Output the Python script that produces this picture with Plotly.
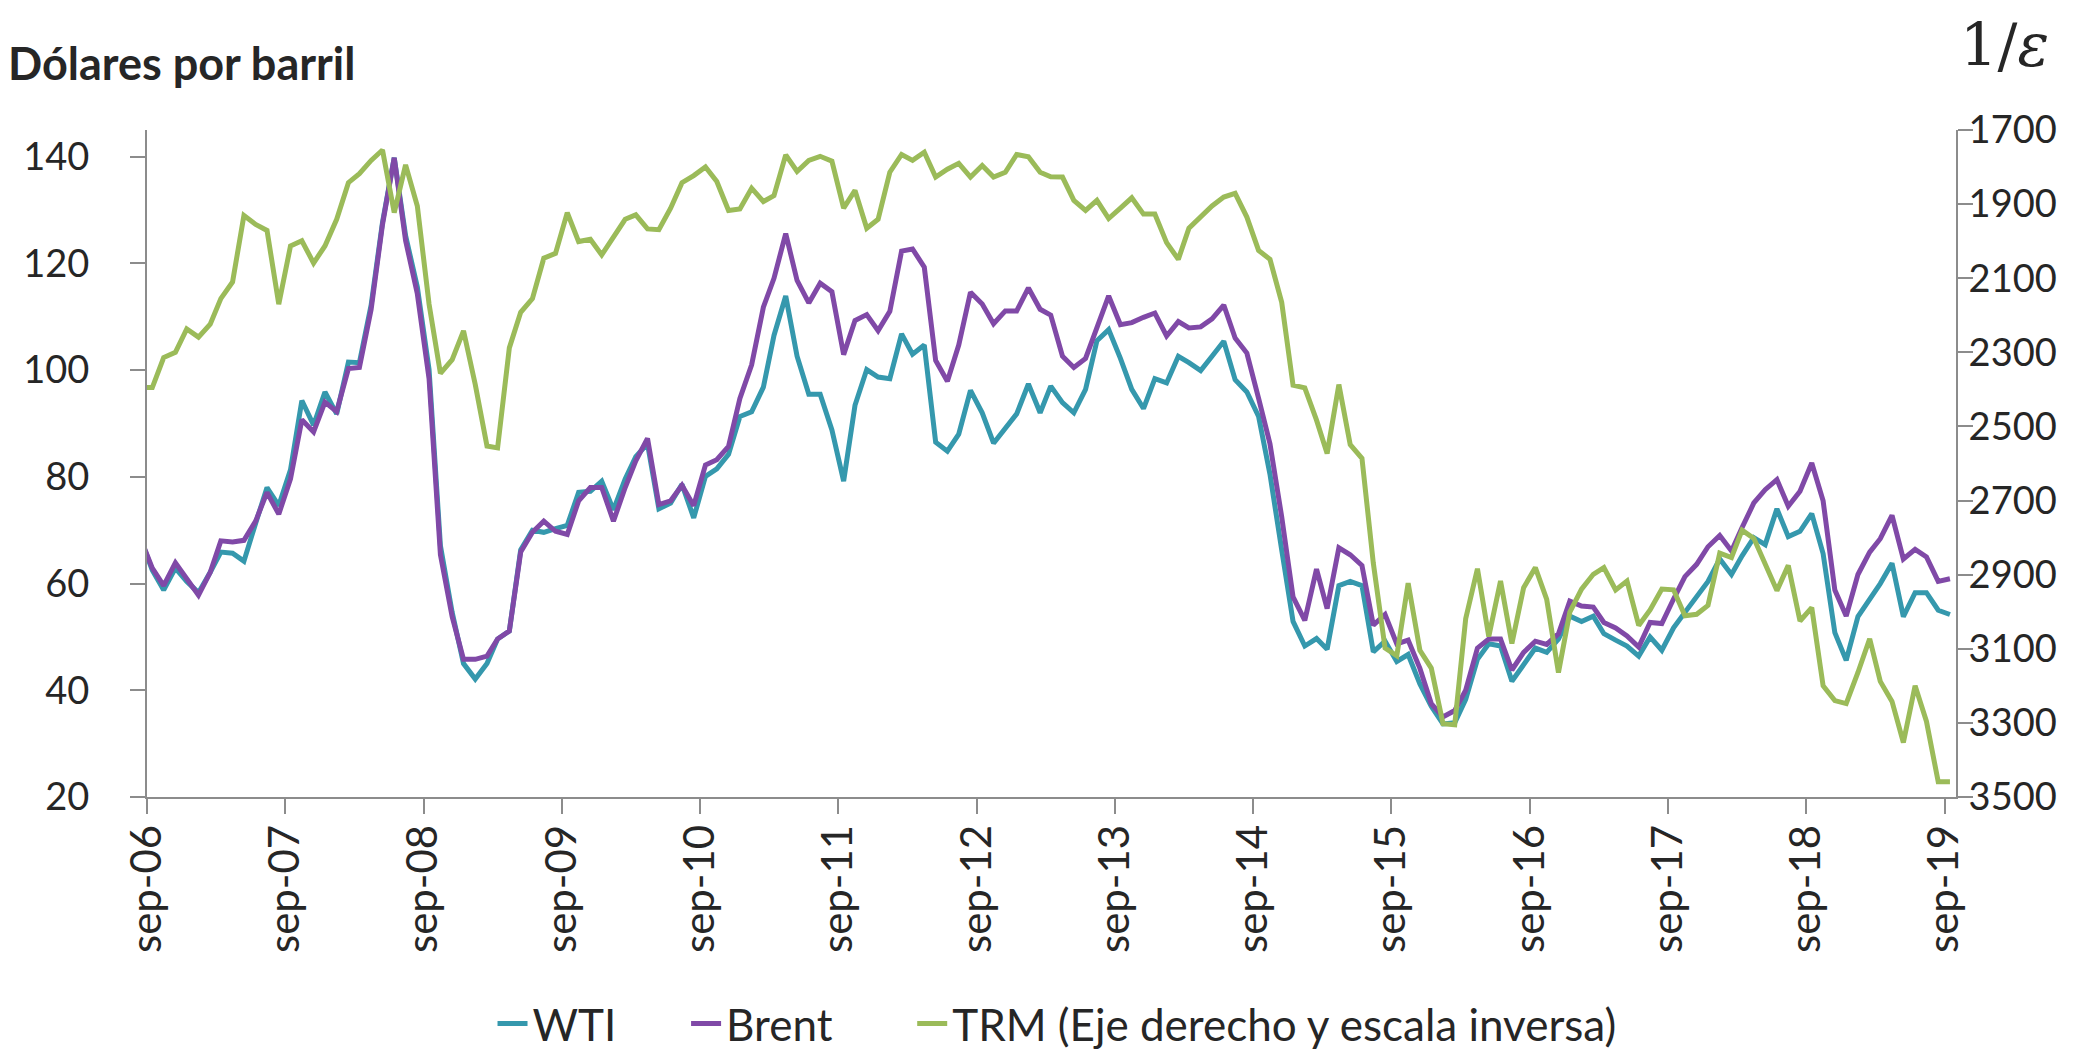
import pandas as pd
import plotly.graph_objects as go

# monthly observations, aug-06 .. sep-19 (plotted at mid-month)
months = pd.date_range("2006-08-01", "2019-09-01", freq="MS") + pd.Timedelta(days=14)

wti = [
    68.4, 62.5, 58.8, 62.9, 60.4, 58.3, 62.1, 65.9, 65.7, 64.2, 71.3, 78.0, 74.6, 81.3, 94.3, 89.7,
    95.9, 91.8, 101.5, 101.4, 112.2, 127.7, 139.8, 125.2, 115.6, 100.1, 67.1, 54.6, 45.0, 42.1, 45.0, 49.6,
    51.1, 66.3, 70.0, 69.6, 70.3, 70.9, 77.1, 77.3, 79.2, 73.8, 79.6, 83.8, 86.2, 74.0, 75.1, 78.6,
    72.3, 80.1, 81.5, 84.2, 91.3, 92.2, 96.8, 106.5, 113.9, 102.6, 95.5, 95.5, 88.8, 79.2, 93.4, 100.1,
    98.7, 98.4, 106.8, 103.0, 104.7, 86.5, 84.8, 88.0, 96.2, 92.0, 86.3, 89.0, 91.8, 97.4, 92.0, 97.0,
    93.9, 92.0, 96.4, 105.5, 107.6, 102.2, 96.4, 92.8, 98.4, 97.6, 102.6, 101.4, 99.9, 102.6, 105.4, 98.2,
    95.9, 91.3, 80.5, 66.3, 52.9, 48.3, 49.7, 47.7, 59.6, 60.4, 59.6, 47.2, 49.2, 45.4, 46.7, 41.2,
    37.0, 33.7, 33.9, 38.3, 45.8, 48.7, 48.3, 41.7, 45.0, 47.9, 47.1, 49.6, 53.9, 52.9, 53.9, 50.6,
    49.4, 48.3, 46.4, 50.0, 47.5, 51.7, 54.6, 57.5, 60.4, 64.6, 61.7, 65.2, 68.6, 67.3, 74.0, 68.8,
    69.8, 73.1, 65.6, 50.8, 45.6, 53.8, 57.1, 60.0, 63.8, 53.8, 58.3, 58.3, 55.0, 54.2,
]

brent = [
    68.4, 62.9, 59.6, 63.9, 60.9, 57.8, 62.1, 68.0, 67.8, 68.1, 71.7, 77.1, 73.0, 79.6, 90.7, 88.4,
    94.0, 92.2, 100.3, 100.5, 111.4, 127.3, 139.8, 124.3, 114.3, 98.4, 65.4, 53.8, 45.8, 45.8, 46.4, 49.6,
    51.1, 65.9, 69.6, 71.7, 69.8, 69.2, 75.5, 78.0, 78.0, 71.7, 78.0, 83.0, 87.2, 74.8, 75.5, 78.4,
    74.6, 82.2, 83.2, 85.7, 94.7, 101.0, 111.8, 117.2, 125.6, 116.8, 112.6, 116.3, 114.7, 102.9, 109.3, 110.4,
    107.4, 111.0, 122.3, 122.7, 119.3, 101.8, 97.9, 104.7, 114.6, 112.4, 108.7, 111.1, 111.1, 115.4, 111.4, 110.3,
    102.6, 100.5, 102.2, 108.1, 113.9, 108.5, 108.9, 109.9, 110.7, 106.4, 109.1, 107.9, 108.1, 109.6, 112.2, 106.0,
    103.2, 94.7, 86.2, 72.5, 57.5, 53.1, 62.7, 55.3, 66.7, 65.4, 63.4, 52.2, 54.2, 48.7, 49.4, 44.1,
    37.5, 35.0, 36.2, 40.0, 47.9, 49.6, 49.6, 43.8, 47.1, 49.2, 48.6, 50.6, 56.7, 55.8, 55.6, 52.7,
    51.7, 50.2, 48.1, 52.7, 52.5, 57.1, 61.3, 63.6, 66.9, 69.0, 66.1, 70.5, 75.1, 77.6, 79.5, 74.5,
    77.3, 82.6, 75.5, 58.8, 53.9, 61.7, 65.9, 68.4, 72.8, 64.6, 66.4, 65.0, 60.4, 60.9,
]

trm = [
    2395, 2395, 2314, 2300, 2237, 2259, 2224, 2155, 2110, 1931, 1955, 1971, 2170, 2013, 1999, 2059,
    2013, 1941, 1842, 1818, 1782, 1754, 1923, 1794, 1905, 2170, 2357, 2320, 2242, 2387, 2553, 2558,
    2288, 2192, 2155, 2046, 2033, 1923, 2001, 1995, 2037, 1987, 1941, 1929, 1967, 1969, 1911, 1842,
    1823, 1800, 1839, 1917, 1913, 1857, 1893, 1877, 1767, 1812, 1782, 1771, 1784, 1911, 1863, 1965,
    1941, 1814, 1766, 1782, 1760, 1827, 1806, 1790, 1827, 1796, 1827, 1814, 1766, 1772, 1814, 1826,
    1827, 1890, 1917, 1890, 1939, 1911, 1883, 1927, 1927, 2004, 2049, 1965, 1935, 1905, 1881, 1871,
    1935, 2025, 2049, 2165, 2389, 2396, 2483, 2573, 2387, 2549, 2586, 2869, 3098, 3119, 2923, 3104,
    3152, 3302, 3305, 3019, 2884, 3067, 2917, 3086, 2935, 2881, 2967, 3164, 3001, 2939, 2899, 2881,
    2941, 2917, 3037, 2995, 2939, 2941, 3011, 3007, 2983, 2842, 2854, 2780, 2802, 2875, 2943, 2875,
    3025, 2989, 3200, 3240, 3248, 3164, 3073, 3188, 3242, 3353, 3200, 3296, 3459, 3459,
]

tick_dates = [f"{y}-09-01" for y in range(2006, 2020)]
tick_labels = ["sep-06", "sep-07", "sep-08", "sep-09", "sep-10", "sep-11", "sep-12",
               "sep-13", "sep-14", "sep-15", "sep-16", "sep-17", "sep-18", "sep-19"]
left_ticks = [20, 40, 60, 80, 100, 120, 140]
right_ticks = [1700, 1900, 2100, 2300, 2500, 2700, 2900, 3100, 3300, 3500]

FONT = "Lato"
TXT = "#262626"
AXIS = "#8c8c8c"

fig = go.Figure()
fig.add_trace(go.Scatter(x=months, y=wti, name="WTI", mode="lines", legend="legend",
                         line=dict(color="#3598ad", width=5)))
fig.add_trace(go.Scatter(x=months, y=brent, name="Brent", mode="lines", legend="legend2",
                         line=dict(color="#8049a7", width=5)))
fig.add_trace(go.Scatter(x=months, y=trm, name="TRM (Eje derecho y escala inversa)", mode="lines",
                         legend="legend3", line=dict(color="#9bbb59", width=5), yaxis="y2"))

axis_style = dict(showline=True, linecolor=AXIS, linewidth=2, ticks="outside", ticklen=15,
                  tickwidth=2, tickcolor=AXIS, showgrid=False, zeroline=False)


def legend_at(x):
    # one legend box per series so the spacing can follow the reference
    return dict(orientation="h", x=x, xanchor="left", y=-0.34, yanchor="middle",
                font=dict(size=44, color=TXT), bgcolor="rgba(0,0,0,0)")


fig.update_layout(
    width=2099, height=1052,
    plot_bgcolor="white", paper_bgcolor="white",
    margin=dict(l=139, r=151, t=122, b=263, autoexpand=False),
    font=dict(family=FONT, size=38, color=TXT),
    showlegend=True,
    legend=legend_at(0.191),
    legend2=legend_at(0.298),
    legend3=legend_at(0.423),
    xaxis=dict(range=["2006-09-01", "2019-10-01"], tickvals=tick_dates, ticktext=tick_labels,
               tickangle=-90, tickfont=dict(size=42), ticklabelstandoff=-6, **axis_style),
    yaxis=dict(range=[20, 145], tickvals=left_ticks, ticklabelstandoff=33, **axis_style),
    yaxis2=dict(range=[3500, 1700], tickvals=right_ticks, overlaying="y", side="right",
                ticklabelstandoff=-12, **axis_style),
)

fig.add_annotation(text="<b>Dólares por barril</b>", xref="paper", yref="paper",
                   x=0, xshift=-141, xanchor="left", y=1.1, yanchor="middle",
                   showarrow=False, font=dict(family=FONT, size=45, color=TXT))
fig.add_annotation(text="1/<i>ε</i>", xref="paper", yref="paper",
                   x=1.027, xanchor="center", y=1.181, yanchor="top",
                   showarrow=False, font=dict(family="DejaVu Serif", size=59, color=TXT))

fig.write_html("out.html")
